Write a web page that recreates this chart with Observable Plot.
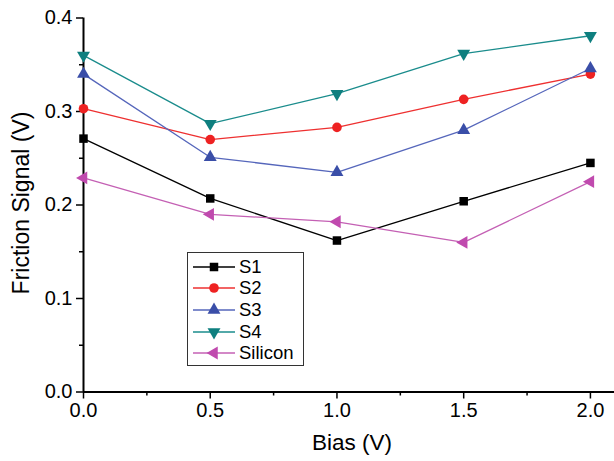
<!DOCTYPE html>
<html><head><meta charset="utf-8">
<script src="https://cdn.jsdelivr.net/npm/d3@7"></script>
<script src="https://cdn.jsdelivr.net/npm/@observablehq/plot@0.6"></script>
<style>
body{margin:0;background:#fff;font-family:"Liberation Sans",Arial,sans-serif;}
#wrap{position:relative;width:614px;height:461px;}
#legend{position:absolute;left:187px;top:252px;width:117px;height:114px;border:1px solid #333;background:#fff;box-sizing:border-box;padding-top:3px;}
.row{display:flex;align-items:center;height:21.6px;font-size:18.5px;color:#000;}
.row svg{margin-left:4px;margin-right:3px;}
</style></head><body><div id="wrap"></div>
<script>
const bias = [0, 0.5, 1.0, 1.5, 2.0];
const seriesNames = ["S1", "S2", "S3", "S4", "Silicon"];
const s1 = [0.271, 0.207, 0.162, 0.204, 0.245];
const s2 = [0.303, 0.270, 0.283, 0.313, 0.340];
const s3 = [0.340, 0.251, 0.235, 0.280, 0.346];
const s4 = [0.360, 0.287, 0.319, 0.362, 0.381];
const silicon = [0.229, 0.190, 0.182, 0.160, 0.225];
const yTicks = [0, 0.1, 0.2, 0.3, 0.4];
const yMinor = [0.05, 0.15, 0.25, 0.35];
const xTicks = [0, 0.5, 1.0, 1.5, 2.0];
const xMinor = [0.25, 0.75, 1.25, 1.75];
const xLabel = "Bias (V)";
const yLabel = "Friction Signal (V)";

const values = [s1, s2, s3, s4, silicon];
const markColors = ["#000000", "#ee2222", "#3a4ea8", "#0e7f7f", "#c04aae"];
const lineColors = ["#000000", "#ee3030", "#5566bb", "#1a8c8c", "#c460b4"];
const symbols = ["square", "circle", "triangle", "triangle", "triangle"];
const rotations = [0, 0, 0, 180, -90];
const radii = [4.8, 4.8, 4.8, 4.8, 4.8];

const font = "'Liberation Sans', Arial, sans-serif";

const marks = [];
seriesNames.forEach((name, i) => {
  const rows = bias.map((b, j) => ({series: name, bias: b, value: values[i][j]}));
  marks.push(Plot.line(rows, {x: "bias", y: "value", stroke: lineColors[i], strokeWidth: 1.3}));
});
seriesNames.forEach((name, i) => {
  const rows = bias.map((b, j) => ({series: name, bias: b, value: values[i][j]}));
  marks.push(Plot.dot(rows, {x: "bias", y: "value", symbol: symbols[i], rotate: rotations[i], r: radii[i], fill: markColors[i], stroke: "none"}));
});

const chart = Plot.plot({
  width: 614, height: 461,
  marginLeft: 83, marginRight: 0, marginTop: 17.5, marginBottom: 69.5,
  style: {fontFamily: font, background: "#fff", color: "#000", overflow: "visible"},
  x: {domain: [0, 2.095]},
  y: {domain: [0, 0.4]},
  marks: [
    Plot.axisY(yMinor, {tickSize: 4, tickFormat: () => "", strokeWidth: 1.5, label: null}),
    Plot.axisX(xMinor, {tickSize: 4, tickFormat: () => "", strokeWidth: 1.5, label: null}),
    Plot.axisY(yTicks, {tickSize: 7, tickPadding: 4, tickFormat: d3.format(".1f"), strokeWidth: 1.5, fontSize: 20, label: null}),
    Plot.axisX(xTicks, {tickSize: 7, tickPadding: 4, tickFormat: d3.format(".1f"), strokeWidth: 1.5, fontSize: 20, label: null}),
    Plot.text([yLabel], {frameAnchor: "left", textAnchor: "middle", lineAnchor: "middle", rotate: -90, dx: -62, dy: -2, fontSize: 23, fill: "#000"}),
    Plot.text([xLabel], {frameAnchor: "bottom", textAnchor: "middle", lineAnchor: "middle", dy: 50.5, dx: 3, fontSize: 22.5, fill: "#000"}),
    Plot.ruleX([0], {strokeWidth: 2}),
    Plot.ruleY([0], {strokeWidth: 2}),
    ...marks
  ]
});

const wrap = document.getElementById("wrap");
wrap.appendChild(chart);

const legend = document.createElement("div");
legend.id = "legend";
const d3types = {square: d3.symbolSquare, circle: d3.symbolCircle, triangle: d3.symbolTriangle};
seriesNames.forEach((name, i) => {
  const row = document.createElement("div");
  row.className = "row";
  const svg = d3.create("svg").attr("width", 44).attr("height", 20);
  svg.append("line").attr("x1", 1).attr("x2", 43).attr("y1", 10).attr("y2", 10)
    .attr("stroke", lineColors[i]).attr("stroke-width", 1.3);
  svg.append("path").attr("d", d3.symbol(d3types[symbols[i]], Math.PI * radii[i] * radii[i])())
    .attr("transform", `translate(22,10) rotate(${rotations[i]})`).attr("fill", markColors[i]);
  row.appendChild(svg.node());
  const span = document.createElement("span");
  span.textContent = name;
  row.appendChild(span);
  legend.appendChild(row);
});
wrap.appendChild(legend);
</script>
</body></html>
